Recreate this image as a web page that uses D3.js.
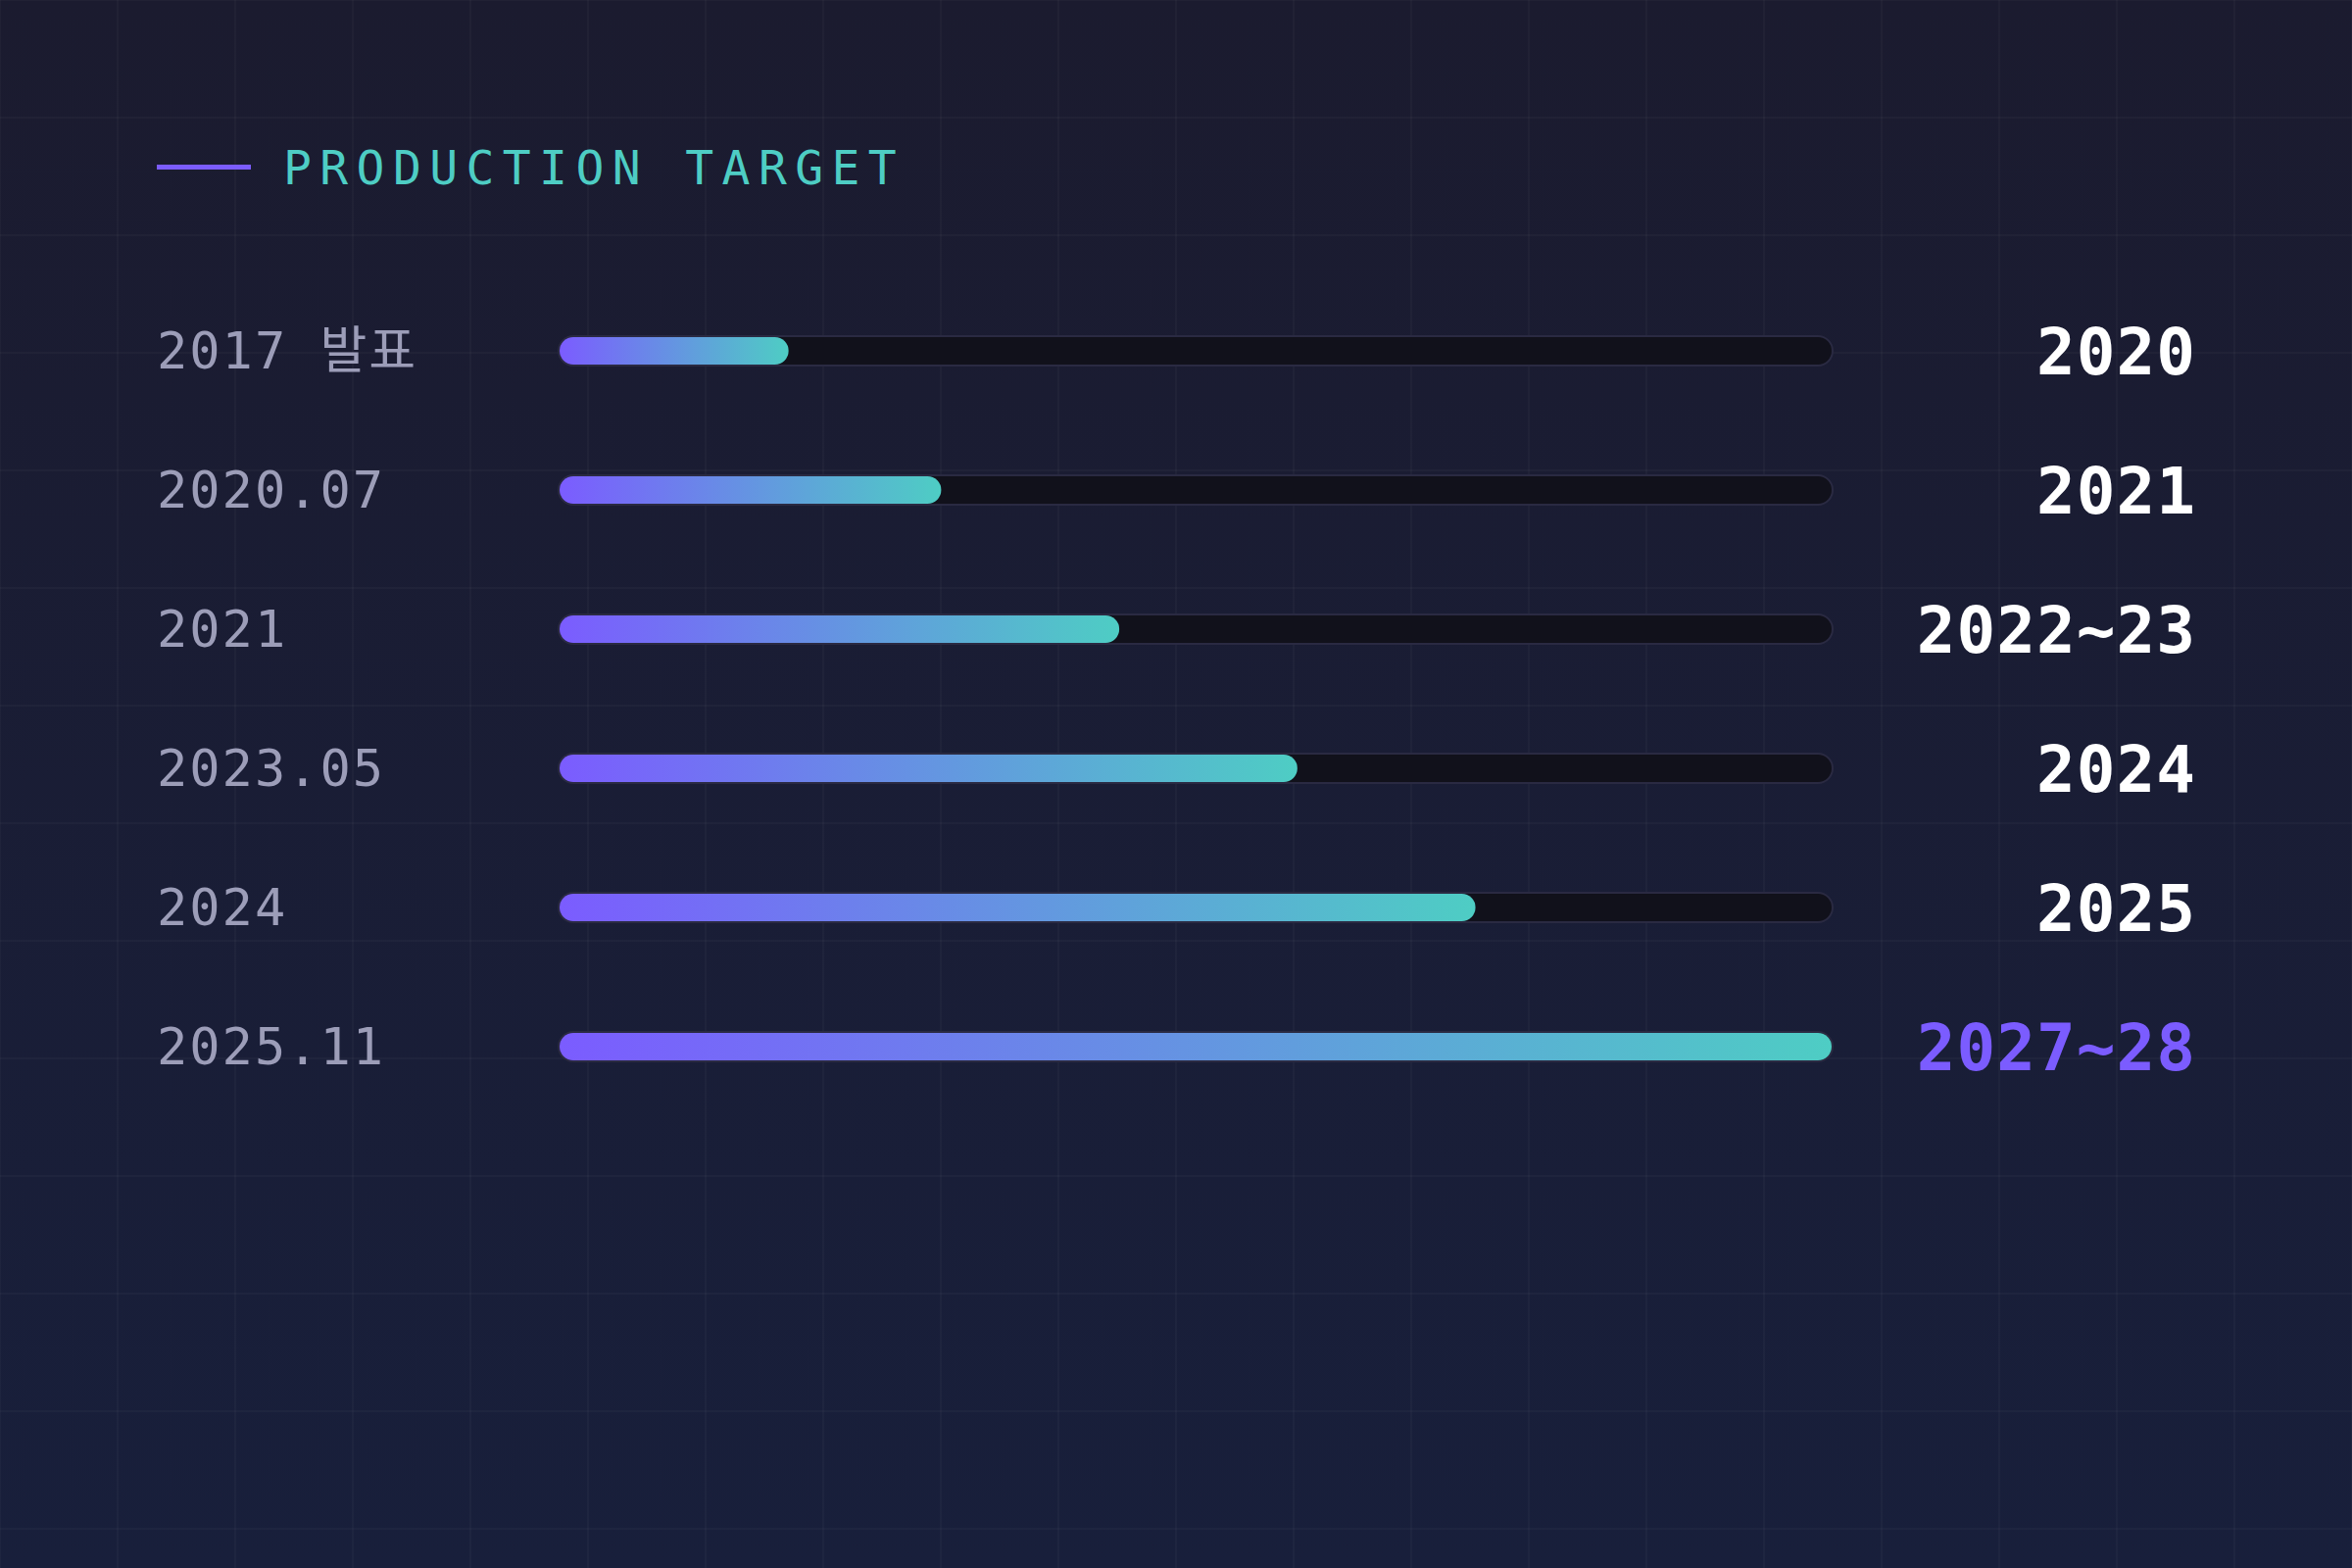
<!DOCTYPE html>
<html>
<head>
<meta charset="utf-8">
<script src="https://cdn.jsdelivr.net/npm/d3@7"></script>
<style>
	html, body { margin: 0; padding: 0; background: #1a1c31; }
	svg { display: block; }
</style>
</head>
<body>
<svg id="chart" width="2400" height="1600"></svg>
<script>
// chart data
var announced = ["2017 발표", "2020.07", "2021", "2023.05", "2024", "2025.11"];
var progress = [18, 30, 44, 58, 72, 100];
var target = ["2020", "2021", "2022~23", "2024", "2025", "2027~28"];
var highlight = [false, false, false, false, false, true];
var title = "PRODUCTION TARGET";

var W = 2400, H = 1600;
var mono = "'DejaVu Sans Mono', 'Noto Sans CJK KR', monospace";
var svg = d3.select("#chart");
var defs = svg.append("defs");

var bg = defs.append("linearGradient")
	.attr("id", "bg").attr("x1", 0).attr("y1", 0).attr("x2", 0).attr("y2", 1);
bg.append("stop").attr("offset", "0%").attr("stop-color", "#1b1b2f");
bg.append("stop").attr("offset", "100%").attr("stop-color", "#181f3b");

var fillGrad = defs.append("linearGradient")
	.attr("id", "fillGrad").attr("x1", 0).attr("y1", 0).attr("x2", 1).attr("y2", 0);
fillGrad.append("stop").attr("offset", "0%").attr("stop-color", "#7b5cff");
fillGrad.append("stop").attr("offset", "100%").attr("stop-color", "#4ecdc4");

svg.append("rect")
	.attr("width", W).attr("height", H)
	.attr("fill", "url(#bg)");

// background grid, every 120px
var grid = svg.append("g").attr("stroke", "rgba(255,255,255,0.028)").attr("stroke-width", 2);
grid.selectAll(".gx").data(d3.range(0, W + 1, 120)).enter().append("line")
	.attr("x1", function(d){ return d; }).attr("x2", function(d){ return d; })
	.attr("y1", 0).attr("y2", H);
grid.selectAll(".gy").data(d3.range(0, H + 1, 120)).enter().append("line")
	.attr("y1", function(d){ return d; }).attr("y2", function(d){ return d; })
	.attr("x1", 0).attr("x2", W);

// title
svg.append("rect")
	.attr("x", 160).attr("y", 168).attr("width", 96).attr("height", 5)
	.attr("fill", "#7b5cff");
svg.append("text")
	.attr("x", 289).attr("y", 188)
	.attr("font-family", mono)
	.attr("font-size", 48)
	.attr("letter-spacing", 8.4)
	.attr("fill", "#4ecdc4")
	.text(title);

var x = d3.scaleLinear().domain([0, 100]).range([571, 1869]);
var y = d3.scalePoint().domain(d3.range(announced.length)).range([358, 1068]);

var rows = svg.selectAll(".row")
	.data(announced.map(function(d, i){
		return {label: d, value: progress[i], target: target[i], hl: highlight[i]};
	}))
	.enter().append("g")
	.attr("class", "row")
	.attr("transform", function(d, i){ return "translate(0," + y(i) + ")"; });

rows.append("text")
	.attr("x", 160).attr("y", 18)
	.attr("font-family", mono)
	.attr("font-size", 52)
	.attr("letter-spacing", 2)
	.attr("fill", "#9c9db8")
	.text(function(d){ return d.label; });

// track
rows.append("rect")
	.attr("x", x(0) - 1).attr("y", -15)
	.attr("width", x(100) - x(0) + 2).attr("height", 30)
	.attr("rx", 15)
	.attr("fill", "#11111b")
	.attr("stroke", "#2a2a42")
	.attr("stroke-width", 2);

// fill
rows.append("rect")
	.attr("x", x(0)).attr("y", -14)
	.attr("width", function(d){ return x(d.value) - x(0); })
	.attr("height", 28)
	.attr("rx", 14)
	.attr("fill", "url(#fillGrad)");

rows.append("text")
	.attr("x", 2241).attr("y", 24)
	.attr("text-anchor", "end")
	.attr("font-family", mono)
	.attr("font-weight", "bold")
	.attr("font-size", 66)
	.attr("letter-spacing", 1)
	.attr("fill", function(d){ return d.hl ? "#7b5cff" : "#ffffff"; })
	.text(function(d){ return d.target; });
</script>
</body>
</html>
